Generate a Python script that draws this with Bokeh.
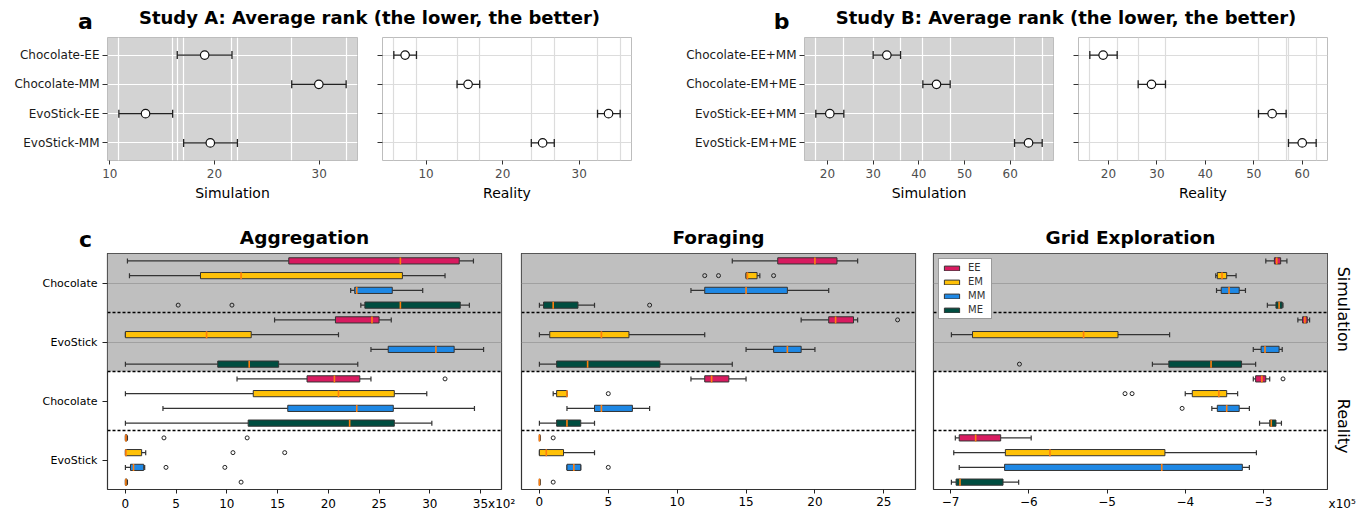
import math
from bokeh.plotting import figure
from bokeh.models import (Range1d, FixedTicker, Label, BoxAnnotation, Span, Legend,
                          LegendItem, ColumnDataSource)
from bokeh.layouts import column, row
from bokeh.embed import file_html
from bokeh.resources import INLINE

FONT = "DejaVu Sans"

# ---------------- Panel a (Study A) ----------------
A_CATS = ["Chocolate-EE", "Chocolate-MM", "EvoStick-EE", "EvoStick-MM"]
A_SIM_MEAN = [19.06, 29.97, 13.41, 19.60]
A_SIM_LO = [16.44, 27.38, 10.86, 17.05]
A_SIM_HI = [21.67, 32.58, 16.00, 22.19]
A_REAL_MEAN = [7.26, 15.48, 33.83, 25.22]
A_REAL_LO = [5.78, 14.04, 32.39, 23.74]
A_REAL_HI = [8.74, 17.00, 35.35, 26.74]
A_TICKS = [10, 20, 30]

# ---------------- Panel b (Study B) ----------------
B_CATS = ["Chocolate-EE+MM", "Chocolate-EM+ME", "EvoStick-EE+MM", "EvoStick-EM+ME"]
B_SIM_MEAN = [33.0, 43.87, 20.51, 64.01]
B_SIM_LO = [30.0, 40.88, 17.45, 60.95]
B_SIM_HI = [36.0, 46.86, 23.58, 67.0]
B_REAL_MEAN = [18.9, 28.88, 53.79, 60.0]
B_REAL_LO = [16.15, 26.13, 50.97, 57.16]
B_REAL_HI = [21.8, 31.77, 56.68, 62.88]
B_TICKS = [20, 30, 40, 50, 60]

# ---------------- Panel c (box plots) ----------------
GROUPS = ["Chocolate", "EvoStick", "Chocolate", "EvoStick"]   # Sim, Sim, Real, Real
ENVS = ["Simulation", "Reality"]
SERIES = ["EE", "EM", "MM", "ME"]
COLORS = ["#D81B60", "#FFC107", "#1E88E5", "#004D40"]

# five-number summaries [low whisker, q1, median, q3, high whisker] per group
# Aggregation (x10^2)
AGG_EE = [[0.2, 16.1, 27.1, 32.9, 34.3], [14.7, 20.7, 24.3, 25.0, 26.2],
          [11.0, 17.9, 20.6, 23.1, 24.2], [0.0, 0.0, 0.05, 0.15, 0.2]]
AGG_EM = [[0.4, 7.4, 11.4, 27.3, 31.5], [0.0, 0.0, 8.0, 12.4, 21.0],
          [0.0, 12.6, 21.0, 26.5, 29.7], [0.0, 0.0, 0.05, 1.6, 2.0]]
AGG_MM = [[22.2, 22.6, 22.8, 26.3, 29.3], [24.2, 25.9, 30.6, 32.4, 35.3],
          [3.7, 16.0, 22.8, 26.4, 34.4], [0.0, 0.5, 0.8, 1.8, 1.9]]
AGG_ME = [[23.2, 23.6, 27.1, 33.0, 33.9], [0.0, 9.1, 12.2, 15.1, 22.9],
          [0.0, 12.1, 22.1, 26.5, 30.2], [0.0, 0.0, 0.05, 0.15, 0.2]]
AGG_OUT_EE = [[], [], [31.5], [3.8, 12.0]]
AGG_OUT_EM = [[], [], [], [10.6, 15.7]]
AGG_OUT_MM = [[], [], [], [4.0, 9.8]]
AGG_OUT_ME = [[5.2, 10.5], [], [], [11.4]]
AGG_TICKS = [0, 5, 10, 15, 20, 25, 30, 35]
AGG_SCALE = "x10\u00b2"

# Foraging
FOR_EE = [[14.0, 17.3, 20.0, 21.6, 23.1], [19.0, 21.0, 21.5, 22.8, 23.1],
          [11.0, 12.0, 12.5, 13.75, 15.0], [0.0, 0.0, 0.0, 0.05, 0.05]]
FOR_EM = [[15.0, 15.0, 15.1, 15.8, 16.0], [0.0, 0.75, 4.5, 6.5, 12.0],
          [1.0, 1.25, 2.0, 2.0, 2.0], [0.0, 0.0, 0.5, 1.75, 4.0]]
FOR_MM = [[11.0, 12.0, 15.0, 18.0, 21.0], [15.0, 17.0, 18.0, 19.0, 20.0],
          [2.0, 4.0, 4.5, 6.75, 8.0], [2.0, 2.0, 2.5, 3.0, 3.0]]
FOR_ME = [[0.0, 0.3, 1.0, 2.8, 4.0], [0.0, 1.25, 3.5, 8.75, 14.0],
          [0.0, 1.25, 2.0, 3.0, 4.0], [0.0, 0.0, 0.0, 0.05, 0.05]]
FOR_OUT_EE = [[], [26.0], [], [1.0]]
FOR_OUT_EM = [[12.0, 13.0, 17.0], [], [5.0], []]
FOR_OUT_MM = [[], [], [], [5.0]]
FOR_OUT_ME = [[8.0], [], [], [1.0]]
FOR_TICKS = [0, 5, 10, 15, 20, 25]

# Grid Exploration (x10^5)
GRID_EE = [[-2.97, -2.86, -2.83, -2.78, -2.70], [-2.56, -2.50, -2.47, -2.44, -2.41],
           [-3.13, -3.10, -3.02, -2.97, -2.92], [-6.94, -6.89, -6.68, -6.36, -5.97]]
GRID_EM = [[-3.61, -3.59, -3.53, -3.47, -3.35], [-6.99, -6.72, -5.30, -4.86, -4.20],
           [-4.00, -3.91, -3.57, -3.47, -3.33], [-6.96, -6.30, -5.73, -4.26, -3.09]]
GRID_MM = [[-3.60, -3.54, -3.44, -3.31, -3.23], [-3.13, -3.03, -2.98, -2.80, -2.76],
           [-3.66, -3.59, -3.47, -3.31, -3.18], [-6.89, -6.31, -4.30, -3.27, -3.18]]
GRID_ME = [[-2.95, -2.84, -2.80, -2.76, -2.75], [-4.42, -4.21, -3.67, -3.28, -3.10],
           [-3.05, -2.92, -2.90, -2.84, -2.77], [-6.99, -6.93, -6.88, -6.33, -6.13]]
GRID_OUT_EE = [[], [], [-2.75], []]
GRID_OUT_EM = [[], [], [-4.77, -4.68], []]
GRID_OUT_MM = [[], [], [-4.04], []]
GRID_OUT_ME = [[], [-6.12], [], []]
GRID_TICKS = [-7, -6, -5, -4, -3]
GRID_SCALE = "x10\u2075"

# ---------------- layout constants (px) ----------------
TOTAL_W = 1358
H1_H, ROW1_H, H2_H, ROW2_H = 35, 185, 33, 263
FRAME_C_H = 236


def strip(w, h):
    s = figure(width=w, height=h, x_range=Range1d(0, w), y_range=Range1d(h, 0),
               output_backend="svg", toolbar_location=None, min_border=0,
               x_axis_location=None, y_axis_location=None)
    s.grid.visible = False
    s.outline_line_color = None
    s.background_fill_color = "white"
    s.border_fill_color = "white"
    return s


def add_text(s, x, y, text, size, bold=True, align="center", angle=0.0):
    s.add_layout(Label(x=x, y=y, text=text, text_font=FONT, text_font_size=size,
                       text_font_style="bold" if bold else "normal", text_align=align,
                       text_baseline="middle", text_color="black", angle=angle))


def style_xaxis(ax, size="12px", color="black"):
    ax.axis_line_color = None
    ax.minor_tick_line_color = None
    ax.major_tick_in = 0
    ax.major_tick_out = 4
    ax.major_tick_line_color = "#222222"
    ax.major_label_standoff = 3
    ax.major_label_text_font = FONT
    ax.major_label_text_font_size = size
    ax.major_label_text_color = color


def rank_panel(cats, mean, lo, hi, ticks, xlabel, sim, show_labels, width, left, right):
    n = len(cats)
    span = max(hi) - min(lo)
    p = figure(width=width, height=ROW1_H,
               x_range=Range1d(min(lo) - 0.05 * span, max(hi) + 0.05 * span),
               y_range=Range1d(n - 0.4, -0.6), output_backend="svg", toolbar_location=None,
               min_border_left=left, min_border_right=right, min_border_top=2,
               min_border_bottom=ROW1_H - 2 - 123)
    ys = list(range(n))
    src = ColumnDataSource(dict(y=ys, mean=mean, lo=lo, hi=hi))
    p.segment(x0="lo", y0="y", x1="hi", y1="y", source=src, line_color="#222222", line_width=1.3)
    for k in ("lo", "hi"):
        p.scatter(x=k, y="y", source=src, marker="dash", angle=math.pi / 2, size=8,
                  line_color="#222222", line_width=1.3)
    p.scatter(x="mean", y="y", source=src, marker="circle", size=8.5, fill_color="white",
              line_color="#111111", line_width=1.2)
    p.background_fill_color = "#d3d3d3" if sim else "white"
    p.border_fill_color = "white"
    p.outline_line_color = "#bdbdbd"
    p.outline_line_width = 1
    p.xgrid.ticker = FixedTicker(ticks=sorted(lo + hi))
    p.ygrid.ticker = FixedTicker(ticks=ys)
    p.grid.grid_line_color = "white" if sim else "#dcdcdc"
    p.grid.grid_line_width = 1.2
    style_xaxis(p.xaxis[0], color="#4d4d4d")
    p.xaxis.major_tick_line_color = "#333333"
    p.xaxis.major_label_standoff = 4
    p.xaxis.ticker = FixedTicker(ticks=ticks)
    p.xaxis.axis_label = xlabel
    p.xaxis.axis_label_text_font = FONT
    p.xaxis.axis_label_text_font_size = "14px"
    p.xaxis.axis_label_text_font_style = "normal"
    p.xaxis.axis_label_text_color = "black"
    p.xaxis.axis_label_standoff = 4
    ay = p.yaxis[0]
    ay.axis_line_color = None
    ay.minor_tick_line_color = None
    ay.major_tick_in = 0
    ay.major_tick_out = 5
    ay.major_tick_line_color = "#333333"
    ay.major_label_standoff = 3
    ay.major_label_text_font = FONT
    ay.major_label_text_font_size = "12px"
    ay.major_label_text_color = "#1a1a1a"
    ay.ticker = FixedTicker(ticks=ys)
    ay.major_label_overrides = {i: (c if show_labels else "") for i, c in enumerate(cats)}
    return p


def box_frame(width, left, right, x_range, show_y=False):
    nrows = len(GROUPS) * len(SERIES)
    p = figure(width=width, height=ROW2_H, x_range=x_range, y_range=Range1d(nrows, 0),
               output_backend="svg", toolbar_location=None,
               min_border_left=left, min_border_right=right, min_border_top=0,
               min_border_bottom=ROW2_H - FRAME_C_H,
               y_axis_location="left" if show_y else None)
    p.background_fill_color = "white"
    p.border_fill_color = "white"
    return p


def box_panel(stats, outs, ticks, width, left, right, show_y=False, legend=False,
              last_tick_suffix=None):
    ng, ns = len(GROUPS), len(SERIES)
    nrows = ng * ns
    allv = [v for s in stats for g in s for v in g] + [v for s in outs for g in s for v in g]
    vmin, vmax = min(allv), max(allv)
    pad = 0.05 * (vmax - vmin)
    p = box_frame(width, left, right, Range1d(vmin - pad, vmax + pad), show_y)
    half = nrows // 2
    p.add_layout(BoxAnnotation(top=0, bottom=half, fill_color="#bfbfbf", fill_alpha=1.0,
                               line_color=None, level="image"))
    boxes = []
    for s in range(ns):
        st = stats[s]
        rows = [g * ns + s + 0.5 for g in range(ng)]
        src = ColumnDataSource(dict(y=rows, lo=[a[0] for a in st], q1=[a[1] for a in st],
                                    med=[a[2] for a in st], q3=[a[3] for a in st],
                                    hi=[a[4] for a in st]))
        p.segment(x0="lo", y0="y", x1="q1", y1="y", source=src, line_color="#333333", line_width=1.2)
        p.segment(x0="q3", y0="y", x1="hi", y1="y", source=src, line_color="#333333", line_width=1.2)
        for k in ("lo", "hi"):
            p.scatter(x=k, y="y", source=src, marker="dash", angle=math.pi / 2, size=5,
                      line_color="#333333", line_width=1.2)
        r = p.hbar(y="y", left="q1", right="q3", height=0.42, source=src, fill_color=COLORS[s],
                   line_color="#333333", line_width=1)
        boxes.append(r)
        p.scatter(x="med", y="y", source=src, marker="dash", angle=math.pi / 2, size=7,
                  line_color="#ff7f0e", line_width=1.6)
        ox, oy = [], []
        for g in range(ng):
            for v in outs[s][g]:
                ox.append(v)
                oy.append(rows[g])
        if ox:
            p.scatter(x=ox, y=oy, marker="circle", size=4, fill_color=None,
                      line_color="#222222", line_width=1)
    for g in range(1, ng):
        p.add_layout(Span(location=g * ns, dimension="width", line_color="black",
                          line_width=1.5, line_dash="3 2"))
    p.outline_line_color = "#333333"
    p.outline_line_width = 1.2
    p.xgrid.visible = False
    p.ygrid.ticker = FixedTicker(ticks=[g * ns + ns / 2 for g in range(ng // 2)])
    p.ygrid.grid_line_color = "#a0a0a0"
    p.ygrid.grid_line_width = 1
    style_xaxis(p.xaxis[0])
    p.xaxis.ticker = FixedTicker(ticks=ticks)
    if last_tick_suffix:
        # keep the last tick number centred: pad on the left as wide as the suffix
        p.xaxis.major_label_overrides = {
            ticks[-1]: "\u2003\u2003\u2005" + str(ticks[-1]) + last_tick_suffix}
    if show_y:
        centers = [g * ns + ns / 2 for g in range(ng)]
        ay = p.yaxis[0]
        ay.ticker = FixedTicker(ticks=centers)
        ay.major_label_overrides = {c: GROUPS[i] for i, c in enumerate(centers)}
        ay.axis_line_color = None
        ay.minor_tick_line_color = None
        ay.major_tick_in = 0
        ay.major_tick_out = 5
        ay.major_tick_line_color = "#222222"
        ay.major_label_standoff = 5
        ay.major_label_text_font = FONT
        ay.major_label_text_font_size = "11px"
        ay.major_label_text_color = "black"
    if legend:
        lg = Legend(items=[LegendItem(label=SERIES[i], renderers=[boxes[i]]) for i in range(ns)],
                    location="top_left", margin=5, padding=3, spacing=3, label_height=11,
                    glyph_width=19, glyph_height=6, label_standoff=7,
                    label_text_font=FONT, label_text_font_size="10px",
                    label_text_color="#333333", border_line_color="#333333",
                    border_line_width=1, background_fill_color="white",
                    background_fill_alpha=1.0)
        p.add_layout(lg, "center")
    return p


# ---------------- header of panels a / b ----------------
h1 = strip(TOTAL_W, H1_H)
add_text(h1, 85, 21, "a", "22px")
add_text(h1, (107 + 631) / 2, 17, "Study A: Average rank (the lower, the better)", "18px")
add_text(h1, 781, 21, "b", "22px")
add_text(h1, (804 + 1327) / 2, 17, "Study B: Average rank (the lower, the better)", "18px")

# ---------------- top row ----------------
A1 = rank_panel(A_CATS, A_SIM_MEAN, A_SIM_LO, A_SIM_HI, A_TICKS, "Simulation", True, True,
                368, 107, 11)
A2 = rank_panel(A_CATS, A_REAL_MEAN, A_REAL_LO, A_REAL_HI, A_TICKS, "Reality", False, False,
                300, 14, 37)
B1 = rank_panel(B_CATS, B_SIM_MEAN, B_SIM_LO, B_SIM_HI, B_TICKS, "Simulation", True, True,
                396, 136, 11)
B2 = rank_panel(B_CATS, B_REAL_MEAN, B_REAL_LO, B_REAL_HI, B_TICKS, "Reality", False, False,
                294, 14, 31)

# ---------------- header of panel c ----------------
h2 = strip(TOTAL_W, H2_H)
add_text(h2, 85, 19, "c", "22px")
add_text(h2, 107 + 394 / 2, 17, "Aggregation", "18.5px")
add_text(h2, 521 + 394 / 2, 17, "Foraging", "18.5px")
add_text(h2, 933 + 394 / 2, 17, "Grid Exploration", "18.5px")

# ---------------- bottom row ----------------
C1 = box_panel([AGG_EE, AGG_EM, AGG_MM, AGG_ME], [AGG_OUT_EE, AGG_OUT_EM, AGG_OUT_MM, AGG_OUT_ME],
               AGG_TICKS, 520, 107, 19, show_y=True, last_tick_suffix=AGG_SCALE)
C2 = box_panel([FOR_EE, FOR_EM, FOR_MM, FOR_ME], [FOR_OUT_EE, FOR_OUT_EM, FOR_OUT_MM, FOR_OUT_ME],
               FOR_TICKS, 404, 1, 9)
C3 = box_panel([GRID_EE, GRID_EM, GRID_MM, GRID_ME],
               [GRID_OUT_EE, GRID_OUT_EM, GRID_OUT_MM, GRID_OUT_ME],
               GRID_TICKS, 404, 9, 1, legend=True)

# right-hand strip: environment names (facet labels) and the exponent of the Grid axis
C4 = box_frame(30, 0, 0, Range1d(0, 30))
C4.outline_line_color = None
C4.grid.visible = False
style_xaxis(C4.xaxis[0])
C4.xaxis.major_tick_line_color = None
C4.xaxis.ticker = FixedTicker(ticks=[13.5])
C4.xaxis.major_label_overrides = {13.5: GRID_SCALE}
n_rows = len(GROUPS) * len(SERIES)
add_text(C4, 14.5, n_rows / 4 - 0.22, ENVS[0], "16px", bold=False, angle=-math.pi / 2)
add_text(C4, 14.5, 3 * n_rows / 4 - 0.3, ENVS[1], "16px", bold=False, angle=-math.pi / 2)

layout = column(h1, row(A1, A2, B1, B2), h2, row(C1, C2, C3, C4))
open("out.html", "w").write(file_html(layout, INLINE))
